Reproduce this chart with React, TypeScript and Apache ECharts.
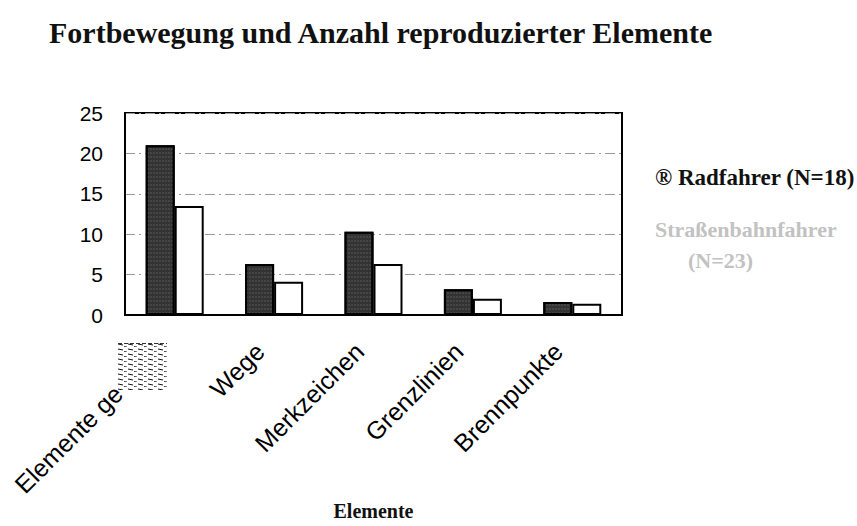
import React, { useEffect, useRef } from "react";
import * as echarts from "echarts";

const categories = ["Elemente ge", "Wege", "Merkzeichen", "Grenzlinien", "Brennpunkte"];
const radfahrer = [21, 6.3, 10.3, 3.2, 1.6];
const strassenbahn = [13.5, 4.1, 6.3, 2.0, 1.4];
const yTicks = [0, 5, 10, 15, 20, 25];
const seriesNames = ["® Radfahrer (N=18)", "Straßenbahnfahrer\n      (N=23)"];

const hatchSvg =
  "data:image/svg+xml;utf8," +
  encodeURIComponent(
    '<svg xmlns="http://www.w3.org/2000/svg" width="10" height="5"><rect width="10" height="5" fill="#fff"/><line x1="0" y1="2" x2="5" y2="3" stroke="#111" stroke-width="1"/><line x1="6" y1="4.5" x2="9" y2="5" stroke="#333" stroke-width="1"/></svg>'
  );

export default function App() {
  const ref = useRef<HTMLDivElement>(null);
  useEffect(() => {
    if (!ref.current) return;
    const chart = echarts.init(ref.current, undefined, { renderer: "svg" });
    const serif = "'Liberation Serif', 'DejaVu Serif', serif";
    const sans = "'Liberation Sans', Arial, sans-serif";
    chart.setOption({
      animation: false,
      backgroundColor: "#fff",
      title: {
        text: "Fortbewegung und Anzahl reproduzierter Elemente",
        left: 44,
        top: 12,
        textStyle: { fontFamily: serif, fontWeight: "bold", fontSize: 30, color: "#111" },
      },
      legend: {
        orient: "vertical",
        left: 650,
        top: 162,
        padding: 0,
        icon: "none",
        itemWidth: 0,
        itemHeight: 10,
        itemGap: 21,
        selectedMode: false,
        data: [
          { name: seriesNames[0], textStyle: { color: "#111", fontSize: 23 } },
          { name: seriesNames[1], textStyle: { color: "#c2c2c2", fontSize: 22 } },
        ],
        textStyle: { fontFamily: serif, fontWeight: "bold", fontSize: 22, lineHeight: 31 },
      },
      grid: {
        left: 125,
        right: 235,
        top: 113,
        bottom: 211,
        show: true,
        borderColor: "#000",
        borderWidth: 2,
        containLabel: false,
      },
      xAxis: {
        type: "category",
        data: categories.map((c, i) =>
          i === 0
            ? { value: c, textStyle: { padding: [0, 80, 0, 0] } }
            : { value: c, textStyle: { padding: [0, 20, 0, 0] } }
        ),
        name: "Elemente",
        nameLocation: "middle",
        nameGap: 177,
        nameTextStyle: { fontFamily: serif, fontWeight: "bold", fontSize: 20, color: "#111" },
        axisLine: { lineStyle: { color: "#000", width: 2 } },
        axisTick: { show: false },
        axisLabel: {
          rotate: 45,
          interval: 0,
          margin: 18,
          fontFamily: sans,
          fontSize: 25,
          color: "#000",
        },
      },
      yAxis: {
        type: "value",
        min: 0,
        max: 25,
        interval: 5,
        axisLine: { show: true, lineStyle: { color: "#000", width: 2 } },
        axisTick: { show: false },
        axisLabel: {
          margin: 22,
          fontFamily: sans,
          fontSize: 21,
          color: "#000",
          formatter: (v: number) => (yTicks.includes(v) ? String(v) : ""),
        },
        splitLine: {
          show: true,
          lineStyle: { color: "#9a9a9a", width: 1, type: [10, 4, 2, 4] },
        },
      },
      series: [
        {
          name: seriesNames[0],
          type: "bar",
          data: radfahrer,
          barWidth: 29,
          barGap: "0%",
          itemStyle: {
            color: "#333",
            borderColor: "#000",
            borderWidth: 2,
            decal: {
              symbol: "rect",
              symbolSize: 0.6,
              color: "rgba(255,255,255,0.3)",
              dashArrayX: [2, 1],
              dashArrayY: [2, 2],
            },
          },
        },
        {
          name: seriesNames[1],
          type: "bar",
          data: strassenbahn,
          barWidth: 29,
          barGap: "0%",
          itemStyle: { color: "#fff", borderColor: "#000", borderWidth: 2 },
        },
      ],
      graphic: [
        {
          type: "rect",
          left: 118,
          top: 342,
          shape: { width: 49, height: 48 },
          style: { fill: { image: hatchSvg, repeat: "repeat" } as any, stroke: null },
          z: 10,
        },
        {
          type: "line",
          shape: { x1: 118, y1: 343.5, x2: 167, y2: 343.5 },
          style: { stroke: "#333", lineWidth: 1, lineDash: [4, 2] },
          z: 11,
        },
      ],
    });
    return () => chart.dispose();
  }, []);
  return (
    <div
      ref={ref}
      style={{ position: "fixed", left: 0, top: 0, width: 857, height: 526 }}
    />
  );
}
